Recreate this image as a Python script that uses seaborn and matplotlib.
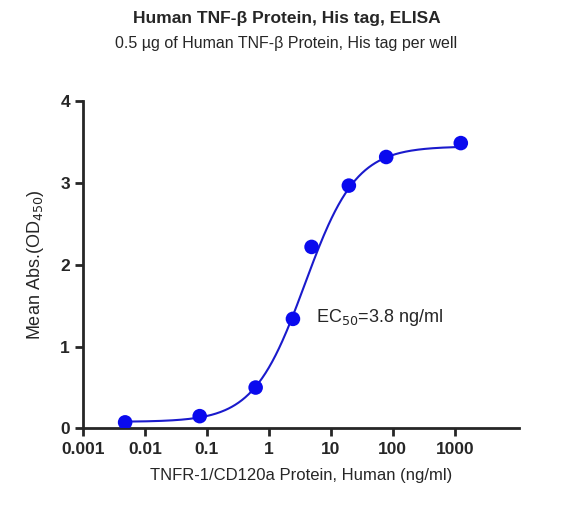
import numpy as np
import matplotlib
matplotlib.use("Agg")
import matplotlib.pyplot as plt
import seaborn as sns

conc = [0.00477, 0.0763, 0.61, 2.44, 4.88, 19.5, 78.1, 1250]
od = [0.074, 0.15, 0.50, 1.34, 2.22, 2.97, 3.32, 3.49]
# 4PL fit parameters
bottom, top, ec50, hill = 0.08, 3.45, 3.8, 1.05

sns.set_style("ticks")
plt.rcParams['font.family'] = ['Liberation Sans', 'DejaVu Sans']
fig, ax = plt.subplots(figsize=(5.73, 5.07), dpi=100)
fig.subplots_adjust(left=0.145, right=0.905, top=0.8, bottom=0.155)

xs = np.logspace(np.log10(conc[0]), np.log10(conc[-1]), 300)
ys = bottom + (top - bottom) / (1 + (ec50 / xs) ** hill)
ax.plot(xs, ys, color="#1a1acc", lw=1.5)
sns.scatterplot(x=conc, y=od, ax=ax, color="#0a0aee", s=110, edgecolor="none", zorder=3)

ax.set_xscale("log")
ax.set_xlim(0.001, 10700)
ax.set_ylim(0, 4)
ax.set_xticks([0.001, 0.01, 0.1, 1, 10, 100, 1000])
ax.set_xticklabels(["0.001", "0.01", "0.1", "1", "10", "100", "1000"])
ax.set_yticks([0, 1, 2, 3, 4])
ax.minorticks_off()
for s in ["top", "right"]:
    ax.spines[s].set_visible(False)
for s in ["left", "bottom"]:
    ax.spines[s].set_linewidth(2)
ax.tick_params(width=2, length=6, labelsize=12.5)
for lab in ax.get_xticklabels() + ax.get_yticklabels():
    lab.set_fontweight("bold")
ax.set_xlabel("TNFR-1/CD120a Protein, Human (ng/ml)", fontsize=12, labelpad=8)
ax.set_ylabel("Mean Abs.(OD$_{450}$)", fontsize=13, labelpad=10)
ax.text(60, 1.3, "EC$_{50}$=3.8 ng/ml", fontsize=13, ha="center")
fig.text(0.5, 0.955, "Human TNF-β Protein, His tag, ELISA", ha="center", fontsize=12.5, fontweight="bold")
fig.text(0.5, 0.905, "0.5 µg of Human TNF-β Protein, His tag per well", ha="center", fontsize=11.5)
fig.savefig("out.png", dpi=100)
